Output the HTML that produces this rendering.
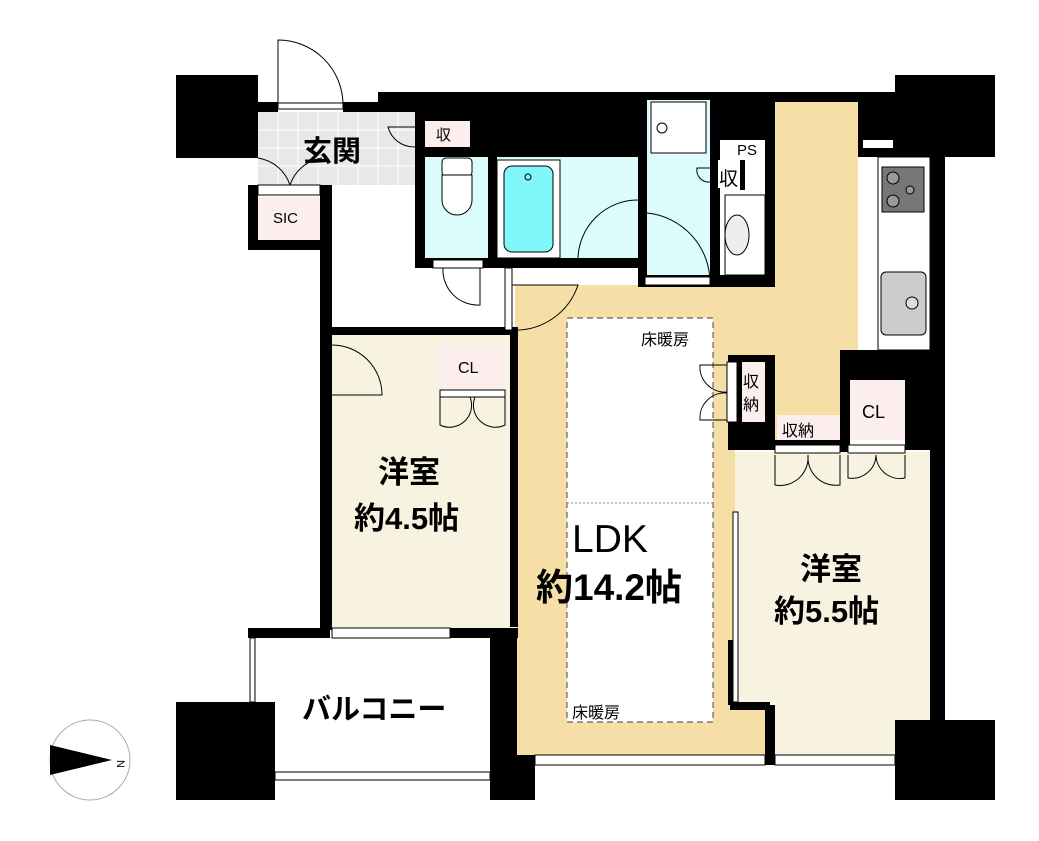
<!DOCTYPE html>
<html><head><meta charset="utf-8"><style>
html,body{margin:0;padding:0;background:#fff;}
svg{display:block;}
text{font-family:"Liberation Sans","Noto Sans CJK JP",sans-serif;fill:#000;}
</style></head><body>
<svg width="1039" height="841" viewBox="0 0 1039 841" xmlns="http://www.w3.org/2000/svg">
<path d="M775 100 H858 V350 H840 V440 H775 V450 H735 V705 H770 V755 H515 V335 H512 V285 H640 V285 H775 Z" fill="#f5dfa6"/>
<rect x="567" y="318" width="146" height="404" fill="#fff" stroke="#666" stroke-dasharray="6,4" stroke-width="1.2"/>
<line x1="567" y1="503" x2="713" y2="503" stroke="#888" stroke-dasharray="2,2"/>
<rect x="258" y="112" width="157" height="73" fill="#e8e8e8"/>
<g stroke="#fff" stroke-width="1">
<path d="M258 130H415M258 148H415M258 166H415M278 112V185M298 112V185M318 112V185M338 112V185M358 112V185M378 112V185M398 112V185"/>
</g>
<rect x="330" y="185" width="185" height="150" fill="#fff"/>
<g fill="#000">
<rect x="176" y="75" width="82" height="83"/>
<rect x="258" y="102" width="20" height="10"/>
<rect x="343" y="102" width="35" height="10"/>
<rect x="378" y="92" width="517" height="10"/>
<rect x="378" y="92" width="37" height="20"/>
<rect x="415" y="92" width="230" height="65"/>
<rect x="710" y="92" width="65" height="48"/>
<rect x="895" y="75" width="100" height="82"/>
<rect x="858" y="92" width="37" height="65"/>
<rect x="858" y="140" width="100" height="17"/>
<rect x="930" y="140" width="15" height="240"/>
<rect x="840" y="350" width="105" height="30"/>
<rect x="905" y="375" width="40" height="75"/>
<rect x="930" y="440" width="15" height="282"/>
<rect x="895" y="720" width="100" height="80"/>
<rect x="710" y="140" width="10" height="145"/>
<rect x="765" y="100" width="10" height="187"/>
<rect x="638" y="92" width="9" height="195"/>
<rect x="640" y="275" width="135" height="12"/>
<rect x="415" y="147" width="10" height="121"/>
<rect x="488" y="157" width="9" height="111"/>
<rect x="415" y="258" width="225" height="10"/>
<rect x="248" y="185" width="10" height="65"/>
<rect x="248" y="240" width="82" height="10"/>
<rect x="320" y="185" width="12" height="445"/>
<rect x="320" y="327" width="198" height="8"/>
<rect x="510" y="327" width="8" height="300"/>
<rect x="432" y="335" width="8" height="60"/>
<rect x="248" y="628" width="82" height="10"/>
<rect x="450" y="628" width="68" height="10"/>
<rect x="490" y="628" width="27" height="172"/>
<rect x="176" y="702" width="99" height="98"/>
<rect x="515" y="755" width="20" height="45"/>
<rect x="728" y="355" width="47" height="95"/>
<rect x="775" y="440" width="70" height="12"/>
<rect x="840" y="375" width="10" height="77"/>
<rect x="765" y="705" width="10" height="60"/>
<rect x="730" y="700" width="40" height="10"/>
<rect x="728" y="640" width="6" height="65"/>
</g>
<rect x="425" y="157" width="63" height="101" fill="#dcfbfd"/>
<rect x="497" y="157" width="141" height="101" fill="#dcfbfd"/>
<rect x="497" y="160" width="63" height="98" fill="#fff" stroke="#000"/>
<rect x="504" y="166" width="49" height="86" rx="8" fill="#7ff7fb" stroke="#000"/>
<circle cx="528" cy="177" r="3" fill="none" stroke="#000"/>
<rect x="647" y="100" width="63" height="175" fill="#dcfbfd"/>
<rect x="651" y="102" width="55" height="51" fill="#fff" stroke="#000"/>
<circle cx="662" cy="128" r="5" fill="none" stroke="#000"/>
<rect x="442" y="158" width="30" height="18" rx="4" fill="#fff" stroke="#000"/>
<path d="M442 175 H472 V200 A15 15 0 0 1 442 200 Z" fill="#fff" stroke="#000"/>
<rect x="725" y="195" width="40" height="80" fill="#fff" stroke="#000"/>
<ellipse cx="737" cy="235" rx="12" ry="20" fill="#eee" stroke="#000"/>
<rect x="332" y="335" width="178" height="293" fill="#f8f2e0"/>
<rect x="735" y="452" width="195" height="250" fill="#f8f2e0"/>
<rect x="775" y="700" width="120" height="55" fill="#f8f2e0"/>
<rect x="895" y="700" width="35" height="20" fill="#f8f2e0"/>
<rect x="440" y="345" width="65" height="45" fill="#fdeeee"/>
<rect x="425" y="121" width="45" height="26" fill="#fdeeee"/>
<rect x="258" y="197" width="62" height="43" fill="#fdeeee"/>
<rect x="742" y="362" width="23" height="60" fill="#fdeeee"/>
<rect x="777" y="415" width="63" height="25" fill="#fdeeee"/>
<rect x="850" y="380" width="55" height="60" fill="#fdeeee"/>
<rect x="720" y="140" width="45" height="45" fill="#fff"/>
<rect x="710" y="160" width="8" height="30" fill="#000"/>
<rect x="718" y="160" width="22" height="28" fill="#fff"/>
<rect x="740" y="160" width="5" height="30" fill="#000"/>
<rect x="878" y="157" width="52" height="193" fill="#fff" stroke="#000"/>
<rect x="882" y="167" width="42" height="45" fill="#777" stroke="#000"/>
<circle cx="893" cy="178" r="6" fill="#999" stroke="#000"/><circle cx="893" cy="201" r="6" fill="#999" stroke="#000"/><circle cx="910" cy="190" r="4" fill="#999" stroke="#000"/>
<rect x="881" y="272" width="45" height="63" rx="5" fill="#ccc" stroke="#000"/>
<circle cx="912" cy="303" r="6" fill="#ddd" stroke="#000"/>
<rect x="863" y="140" width="30" height="8" fill="#fff"/>
<g fill="none" stroke="#000" stroke-width="1">
<path d="M278 103 V40 A65 65 0 0 1 343 103"/>
<path d="M258 158 A40 40 0 0 1 290 185 M322 158 A40 40 0 0 0 290 185"/>
<path d="M415 127 H388 A27 27 0 0 0 415 147"/>
<path d="M443 268 A35 35 0 0 0 480 305 V268"/>
<path d="M512 285 H578 A66 66 0 0 1 512 330"/>
<path d="M638 200 A60 60 0 0 0 578 258"/>
<path d="M647 213 A70 70 0 0 1 710 283"/>
<path d="M710 168 H697 A12 12 0 0 0 710 182"/>
<path d="M332 345 A50 50 0 0 1 382 395 H332"/>
<path d="M440 397 V425 A22 22 0 0 0 470 397 M505 397 V425 A22 22 0 0 1 475 397"/>
<path d="M727 365 H700 A25 25 0 0 0 727 392 M727 420 H700 A25 25 0 0 1 727 393"/>
<path d="M775 455 V485 A28 28 0 0 0 808 455 M840 455 V485 A28 28 0 0 1 808 455"/>
<path d="M848 455 V478 A24 24 0 0 0 876 455 M905 455 V478 A24 24 0 0 1 876 455"/>
</g>
<g fill="#fff" stroke="#000">
<rect x="278" y="103" width="65" height="6"/>
<rect x="258" y="185" width="62" height="10"/>
<rect x="440" y="390" width="65" height="7"/>
<rect x="727" y="362" width="10" height="60"/>
<rect x="775" y="445" width="65" height="8"/>
<rect x="848" y="445" width="57" height="8"/>
<rect x="433" y="260" width="50" height="8"/>
<rect x="505" y="268" width="7" height="62"/>
<rect x="645" y="277" width="65" height="8"/>
<rect x="332" y="628" width="118" height="10"/>
<rect x="535" y="755" width="230" height="10"/>
<rect x="775" y="755" width="120" height="10"/>
<rect x="275" y="772" width="215" height="8"/>
<rect x="250" y="638" width="5" height="64"/>
<rect x="733" y="512" width="5" height="190"/>
</g>
<circle cx="90" cy="760" r="40" fill="#fff" stroke="#aaa"/>
<path d="M50 745 L112 760 L50 775 Z" fill="#000"/>
<text x="120" y="765" font-size="11" transform="rotate(90 121 761)">N</text>
<g>
<text x="303" y="161" font-size="29" font-weight="bold">玄関</text>
<text x="273" y="223" font-size="15">SIC</text>
<text x="436" y="140" font-size="15">収</text>
<text x="737" y="155" font-size="15">PS</text>
<text x="719" y="185" font-size="19">収</text>
<text x="458" y="373" font-size="16">CL</text>
<text x="641" y="345" font-size="16">床暖房</text>
<text x="743" y="387" font-size="16">収</text>
<text x="743" y="410" font-size="16">納</text>
<text x="782" y="436" font-size="16">収納</text>
<text x="862" y="418" font-size="18">CL</text>
<text x="378" y="483" font-size="31" font-weight="bold">洋室</text>
<text x="354" y="529" font-size="31" font-weight="bold">約4.5帖</text>
<text x="572" y="552" font-size="39">LDK</text>
<text x="536" y="600" font-size="37" font-weight="bold">約14.2帖</text>
<text x="800" y="580" font-size="31" font-weight="bold">洋室</text>
<text x="774" y="622" font-size="31" font-weight="bold">約5.5帖</text>
<text x="302" y="719" font-size="29" font-weight="bold">バルコニー</text>
<text x="572" y="718" font-size="16">床暖房</text>
</g>
</svg>
</body></html>
